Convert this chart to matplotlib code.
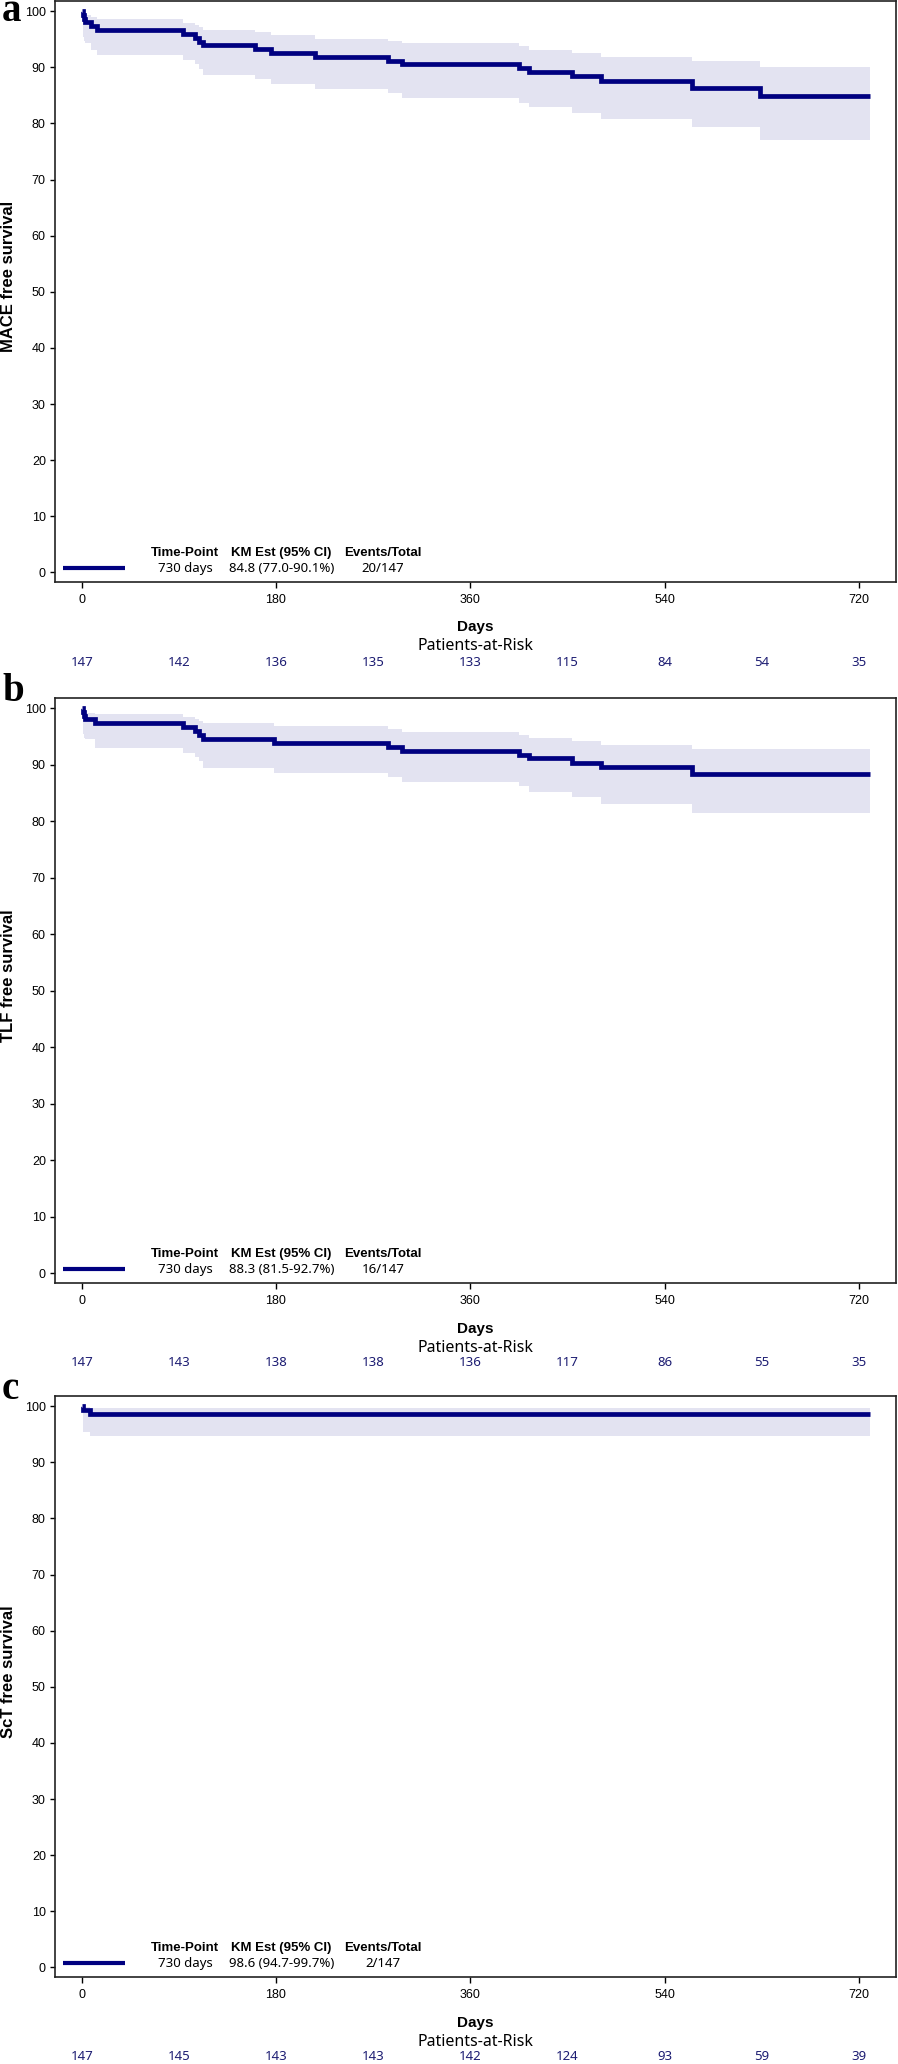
import matplotlib
matplotlib.use('Agg')
import matplotlib.pyplot as plt
from matplotlib.lines import Line2D

plt.rcParams['font.family'] = ['Liberation Sans', 'DejaVu Sans']

# panel a: MACE
mace_t = [0, 1, 2, 3, 9, 14, 94, 105, 109, 112, 161, 175, 216, 284, 297, 405, 414, 454, 481, 565, 628]
mace_s = [100, 99.3, 98.6, 98.0, 97.3, 96.6, 95.9, 95.2, 94.5, 93.9, 93.2, 92.5, 91.8, 91.2, 90.5,
          89.8, 89.1, 88.4, 87.5, 86.3, 84.8]
mace_lo = [100, 95.3, 94.6, 94.3, 93.0, 92.2, 91.3, 90.5, 89.6, 88.6, 87.9, 87.0, 86.1, 85.4, 84.6,
           83.7, 82.9, 81.9, 80.8, 79.3, 77.0]
mace_hi = [100, 99.9, 99.6, 99.3, 98.9, 98.6, 97.9, 97.5, 97.1, 96.7, 96.2, 95.7, 95.1, 94.7, 94.25,
           93.8, 93.1, 92.5, 91.9, 91.1, 90.1]
mace_risk = [147, 142, 136, 135, 133, 115, 84, 54, 35]

# panel b: TLF
tlf_t = [0, 1, 2, 3, 12, 94, 105, 109, 112, 178, 284, 297, 405, 414, 454, 481, 565]
tlf_s = [100, 99.3, 98.6, 98.0, 97.3, 96.6, 95.9, 95.2, 94.6, 93.9, 93.2, 92.5, 91.8, 91.1, 90.3, 89.6, 88.3]
tlf_lo = [100, 95.5, 94.8, 94.5, 93.0, 92.1, 91.4, 90.7, 89.4, 88.6, 87.8, 86.9, 86.2, 85.2, 84.2, 83.0, 81.5]
tlf_hi = [100, 99.9, 99.5, 99.2, 99.0, 98.4, 98.0, 97.8, 97.4, 96.8, 96.25, 95.8, 95.2, 94.8, 94.2, 93.5, 92.7]
tlf_risk = [147, 143, 138, 138, 136, 117, 86, 55, 35]

# panel c: ScT
sct_t = [0, 1, 8]
sct_s = [100, 99.3, 98.6]
sct_lo = [100, 95.3, 94.7]
sct_hi = [100, 99.9, 99.7]
sct_risk = [147, 145, 143, 143, 142, 124, 93, 59, 39]

risk_days = [0, 90, 180, 270, 360, 450, 540, 630, 720]
end_day = 730

panels = [
    ('a', 'MACE free survival', mace_t, mace_s, mace_lo, mace_hi, mace_risk,
     '84.8 (77.0-90.1%)', '20/147'),
    ('b', 'TLF free survival', tlf_t, tlf_s, tlf_lo, tlf_hi, tlf_risk,
     '88.3 (81.5-92.7%)', '16/147'),
    ('c', 'ScT free survival', sct_t, sct_s, sct_lo, sct_hi, sct_risk,
     '98.6 (94.7-99.7%)', '2/147'),
]

navy = '#000080'
band = '#e3e3f1'
risk_col = '#1c1c72'
legend_font = ['Noto Sans', 'DejaVu Sans']

W, H = 898, 2064
fig = plt.figure(figsize=(W / 100, H / 100), dpi=100)

# axes placement in pixels (top, bottom)
boxes = [(1, 582), (698, 1283), (1396, 1977)]
left_px, right_px = 55, 896
px = 0.72  # points per pixel at 100 dpi

for (letter, ylab, t, s, lo, hi, risk, km, ev), (top, bot) in zip(panels, boxes):
    ax = fig.add_axes([left_px / W, (H - bot) / H, (right_px - left_px) / W, (bot - top) / H])

    tt = t + [end_day]
    ax.fill_between(tt, lo + [lo[-1]], hi + [hi[-1]], step='post', color=band, lw=0)
    ax.step(tt, s + [s[-1]], where='post', color=navy, lw=3.4,
            solid_capstyle='butt', solid_joinstyle='miter')

    ax.set_xlim(-24.7, 754.3)
    ax.set_ylim(-1.7, 101.8)
    ax.set_xticks([0, 180, 360, 540, 720])
    ax.set_yticks(range(0, 101, 10))
    ax.tick_params(axis='x', length=4.3, width=1, pad=4, labelsize=9)
    ax.tick_params(axis='y', length=3.6, width=1, pad=3, labelsize=9)
    for sp in ax.spines.values():
        sp.set_linewidth(1.2)
        sp.set_color('#222222')

    ax.set_ylabel(ylab, fontsize=12, fontweight='bold', va='center')
    ax.yaxis.set_label_coords(-0.0553, 0.526)

    # inset KM table
    ax.add_line(Line2D([0.0092, 0.0832], [0.0236, 0.0236], transform=ax.transAxes,
                       color=navy, lw=3, solid_capstyle='butt'))
    for xc, head, val in [(0.1546, 'Time-Point', '730 days'),
                          (0.2693, 'KM Est (95% CI)', km),
                          (0.3900, 'Events/Total', ev)]:
        ax.text(xc, 0.0494, head, transform=ax.transAxes, ha='center', va='center',
                fontsize=9.5, fontweight='bold')
        ax.text(xc, 0.0236, val, transform=ax.transAxes, ha='center', va='center',
                fontsize=9.5, family=legend_font)

    ax.annotate('Days', xy=(0.5, 0), xycoords='axes fraction', xytext=(0, -45.5 * px),
                textcoords='offset points', ha='center', va='center',
                fontsize=11, fontweight='bold')
    ax.annotate('Patients-at-Risk', xy=(0.5, 0), xycoords='axes fraction',
                xytext=(0, -64.5 * px), textcoords='offset points', ha='center', va='center',
                fontsize=11.5, family=legend_font)
    for d, n in zip(risk_days, risk):
        ax.annotate(str(n), xy=(d, 0), xycoords=('data', 'axes fraction'),
                    xytext=(0, -80 * px), textcoords='offset points', ha='center', va='center',
                    fontsize=9.5, color=risk_col, family=legend_font)

    # panel letter
    fig.text(2 / W, 1 - (top + 20) / H if letter == 'a' else 1 - (top + 3) / H, letter,
             fontsize=28, fontweight='bold', family=['Liberation Serif', 'DejaVu Serif'],
             ha='left', va='baseline')

fig.savefig('out.png', dpi=100)
